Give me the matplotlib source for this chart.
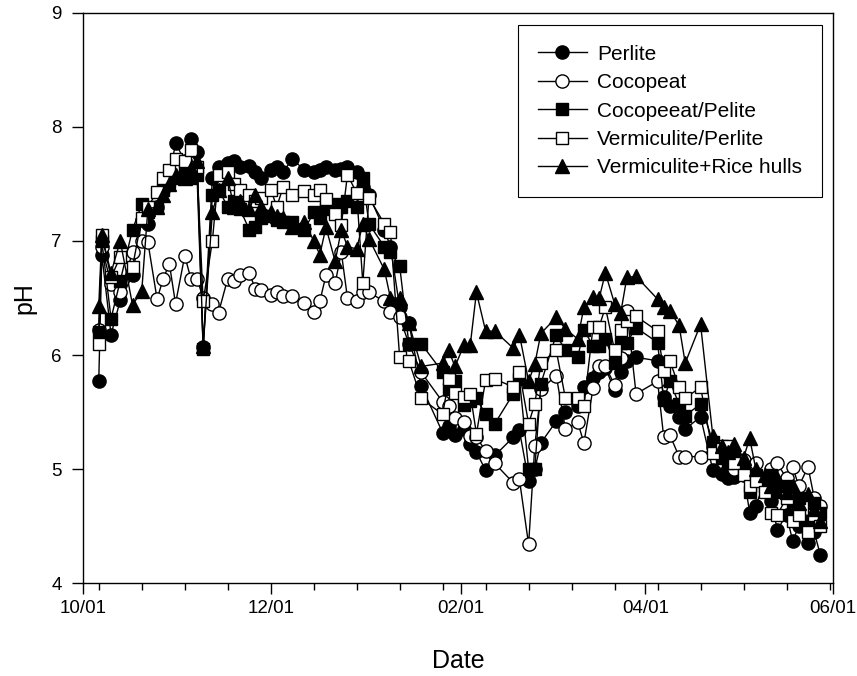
import matplotlib
matplotlib.use("Agg")
import matplotlib.pyplot as plt
import matplotlib.dates as mdates
import numpy as np
import pandas as pd

plt.rcParams['font.family'] = ['Liberation Sans', 'DejaVu Sans']

# Sampling dates (2011-2012 season)
dates = [
    "2011-10-06", "2011-10-07", "2011-10-10", "2011-10-13", "2011-10-17", "2011-10-20",
    "2011-10-22", "2011-10-25", "2011-10-27", "2011-10-29", "2011-10-31",
    "2011-11-03", "2011-11-05", "2011-11-07", "2011-11-09", "2011-11-12", "2011-11-14",
    "2011-11-17", "2011-11-19", "2011-11-21", "2011-11-24", "2011-11-26", "2011-11-28",
    "2011-12-01", "2011-12-03", "2011-12-05", "2011-12-08", "2011-12-12", "2011-12-15",
    "2011-12-17", "2011-12-19", "2011-12-22", "2011-12-24", "2011-12-26", "2011-12-29",
    "2011-12-31",
    "2012-01-02", "2012-01-07", "2012-01-09", "2012-01-12", "2012-01-15", "2012-01-19",
    "2012-01-26", "2012-01-28", "2012-01-30",
    "2012-02-02", "2012-02-04", "2012-02-06", "2012-02-09", "2012-02-12", "2012-02-18",
    "2012-02-20", "2012-02-23", "2012-02-25", "2012-02-27",
    "2012-03-03", "2012-03-06", "2012-03-10", "2012-03-12", "2012-03-15", "2012-03-17",
    "2012-03-19", "2012-03-22", "2012-03-24", "2012-03-26", "2012-03-29",
    "2012-04-05", "2012-04-07", "2012-04-09", "2012-04-12", "2012-04-14", "2012-04-19",
    "2012-04-23", "2012-04-26", "2012-04-28", "2012-04-30",
    "2012-05-03", "2012-05-05", "2012-05-07", "2012-05-10", "2012-05-12", "2012-05-14",
    "2012-05-17", "2012-05-19", "2012-05-21", "2012-05-24", "2012-05-26", "2012-05-28",
]

perlite = [
    5.77, 6.88, 6.18, 6.48, 6.70, 7.18, 7.15, 7.30, 7.45, 7.55, 7.86,
    7.70, 7.89, 7.78, 6.07, 7.55, 7.65, 7.68, 7.70, 7.65, 7.66, 7.60, 7.55,
    7.62, 7.65, 7.60, 7.72, 7.62, 7.60, 7.62, 7.65, 7.62, 7.63, 7.65, 7.60, 7.47,
    7.40, 7.10, 6.95, 6.42, 6.28, 5.73, 5.32, 5.38, 5.30,
    5.35, 5.22, 5.15, 4.99, 5.12, 5.28, 5.34, 4.90, 5.00, 5.23,
    5.42, 5.50, 5.55, 5.72, 5.80, 5.85, 5.89, 5.69, 5.85, 5.95, 5.98,
    5.95, 5.63, 5.55, 5.46, 5.35, 5.46, 4.99, 4.96, 4.92, 4.93,
    4.95, 4.62, 4.68, 4.90, 4.72, 4.47, 4.60, 4.37, 4.50, 4.35, 4.45, 4.25,
]

cocopeat = [
    6.22, 6.95, 6.62, 6.55, 6.90, 7.00, 6.99, 6.49, 6.67, 6.80, 6.45,
    6.87, 6.67, 6.67, 6.50, 6.45, 6.37, 6.67, 6.65, 6.70, 6.72, 6.58, 6.57,
    6.53, 6.55, 6.52, 6.52, 6.46, 6.38, 6.47, 6.70, 6.63, 6.90, 6.50, 6.47, 6.55,
    6.55, 6.47, 6.38, 6.33, 6.10, 5.85, 5.59, 5.55, 5.45,
    5.41, 5.29, 5.28, 5.16, 5.05, 4.88, 4.91, 4.34, 5.20, 5.70,
    5.82, 5.35, 5.41, 5.23, 5.71, 5.90, 5.90, 5.74, 5.97, 6.39, 5.66,
    5.77, 5.28, 5.30, 5.11, 5.11, 5.11, 5.19, 5.15, 5.10, 5.00,
    5.08, 4.97, 5.05, 4.90, 5.00, 5.05, 4.92, 5.02, 4.85, 5.02, 4.75, 4.68,
]

cocopeat_perlite = [
    6.20, 7.00, 6.32, 6.65, 7.10, 7.32, 7.25, 7.30, 7.45, 7.52, 7.55,
    7.60, 7.55, 7.58, 6.05, 7.40, 7.45, 7.30, 7.35, 7.28, 7.10, 7.12, 7.20,
    7.22, 7.18, 7.17, 7.17, 7.10, 7.25, 7.20, 7.28, 7.32, 7.30, 7.35, 7.30, 7.55,
    7.15, 6.95, 6.90, 6.78, 6.10, 6.10, 5.85, 5.70, 5.77,
    5.56, 5.60, 5.62, 5.48, 5.40, 5.66, 5.79, 5.00, 5.00, 5.75,
    6.18, 6.04, 5.98, 6.22, 6.08, 6.08, 6.14, 5.93, 6.11, 6.11, 6.24,
    6.11, 5.61, 5.77, 5.57, 5.47, 5.57, 5.24, 5.10, 5.05, 5.10,
    5.00, 4.80, 4.95, 4.85, 4.95, 4.80, 4.85, 4.70, 4.75, 4.55, 4.70, 4.62,
]

vermiculite_perlite = [
    6.10, 7.05, 6.68, 6.86, 6.77, 7.20, 7.30, 7.43, 7.55, 7.62, 7.72,
    7.70, 7.80, 7.65, 6.47, 7.00, 7.58, 7.60, 7.50, 7.45, 7.40, 7.35, 7.38,
    7.45, 7.30, 7.47, 7.40, 7.44, 7.40, 7.45, 7.37, 7.24, 7.14, 7.58, 7.42, 6.63,
    7.38, 7.15, 7.08, 5.98, 5.95, 5.62, 5.48, 5.79, 5.67,
    5.63, 5.66, 5.31, 5.78, 5.79, 5.72, 5.85, 5.40, 5.57, 5.93,
    6.04, 5.62, 5.62, 5.55, 6.25, 6.25, 6.42, 6.04, 6.22, 6.30, 6.34,
    6.21, 5.86, 5.95, 5.72, 5.62, 5.72, 5.14, 5.20, 5.20, 5.05,
    4.95, 4.85, 4.90, 4.80, 4.62, 4.60, 4.75, 4.55, 4.60, 4.45, 4.60, 4.50,
]

vermiculite_rice = [
    6.43, 7.05, 6.72, 7.00, 6.44, 6.56, 7.28, 7.30, 7.40, 7.50, 7.58,
    7.55, 7.64, 7.70, 6.08, 7.25, 7.45, 7.55, 7.30, 7.35, 7.28, 7.40, 7.30,
    7.25, 7.22, 7.20, 7.12, 7.17, 7.00, 6.88, 7.12, 6.82, 7.10, 6.95, 6.93, 7.15,
    7.02, 6.75, 6.50, 6.50, 6.28, 5.90, 5.93, 6.04, 5.90,
    6.09, 6.09, 6.55, 6.21, 6.21, 6.06, 6.18, 5.77, 5.92, 6.19,
    6.33, 6.23, 6.14, 6.42, 6.51, 6.50, 6.72, 6.45, 6.37, 6.68, 6.69,
    6.49, 6.42, 6.39, 6.26, 5.93, 6.27, 5.29, 5.20, 5.15, 5.22,
    5.10, 5.27, 5.00, 4.95, 4.85, 4.92, 4.80, 4.85, 4.70, 4.78, 4.65, 4.55,
]

labels = ["Perlite", "Cocopeat", "Cocopeeat/Pelite", "Vermiculite/Perlite",
          "Vermiculite+Rice hulls"]

x = pd.to_datetime(dates)

fig = plt.figure(figsize=(8.57, 6.76), dpi=100)
ax = fig.add_axes([83.4 / 857, 1 - 583.3 / 676, 749.2 / 857, 570.6 / 676])

styles = [
    dict(marker='o', markersize=9.5, markerfacecolor='black'),
    dict(marker='o', markersize=9.5, markerfacecolor='white'),
    dict(marker='s', markersize=8.3, markerfacecolor='black'),
    dict(marker='s', markersize=8.3, markerfacecolor='white'),
    dict(marker='^', markersize=9.5, markerfacecolor='black'),
]
series = [perlite, cocopeat, cocopeat_perlite, vermiculite_perlite, vermiculite_rice]

for vals, lab, st in zip(series, labels, styles):
    ax.plot(x, vals, color='black', linewidth=1.0, markeredgecolor='black',
            markeredgewidth=1.0, label=lab, **st)

ax.set_xlim(pd.Timestamp("2011-10-01"), pd.Timestamp("2012-06-01"))
ax.set_ylim(4, 9)
ax.set_yticks([4, 5, 6, 7, 8, 9])

major = pd.to_datetime(["2011-10-01", "2011-12-01", "2012-02-01", "2012-04-01", "2012-06-01"])
ax.set_xticks(major)
ax.xaxis.set_major_formatter(mdates.DateFormatter("%m/%d"))
minor = pd.date_range("2011-10-06", "2012-06-01", freq="14D")
ax.set_xticks(minor, minor=True)

for sp in ax.spines.values():
    sp.set_linewidth(1.0)
ax.tick_params(axis='both', which='major', direction='out', length=8, width=1.0,
               labelsize=13.5)
ax.tick_params(axis='x', which='major', pad=4)
ax.tick_params(axis='y', which='major', pad=7.5)
ax.tick_params(axis='x', which='minor', direction='out', length=5, width=1.0)

ax.set_xlabel("Date", fontsize=18)
ax.set_ylabel("pH", fontsize=18)
ax.xaxis.set_label_coords(0.5, -0.115)
ax.yaxis.set_label_coords(-0.062, 0.5)

leg = ax.legend(loc='upper right', bbox_to_anchor=(0.9855, 0.9785), borderaxespad=0,
                fontsize=15, frameon=True, fancybox=False, edgecolor='black',
                framealpha=1, handlelength=2.35, handletextpad=0.5,
                borderpad=0.95, labelspacing=0.45)
leg.get_frame().set_linewidth(0.8)

fig.savefig("out.png", dpi=100)
